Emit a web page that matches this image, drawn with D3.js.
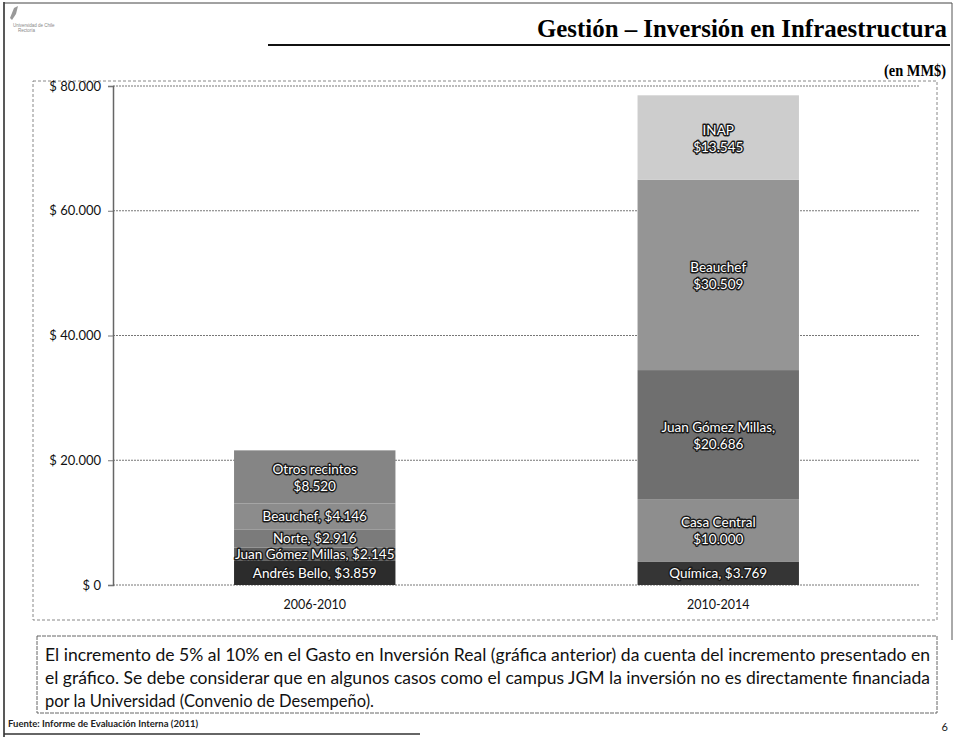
<!DOCTYPE html>
<html><head><meta charset="utf-8">
<script src="https://cdn.jsdelivr.net/npm/d3@7"></script>
<style>
html,body{margin:0;padding:0;background:#fff;}
svg{display:block;}
</style></head>
<body><svg id="c" width="957" height="737"></svg>
<script>
// ---- data ----
const periods = ["2006-2010", "2010-2014"];
const campuses2006 = ["Andrés Bello", "Juan Gómez Millas", "Norte", "Beauchef", "Otros recintos"];
const values2006 = [3859, 2145, 2916, 4146, 8520];
const twoLine2006 = [false, false, false, false, true];
const campuses2010 = ["Química", "Casa Central", "Juan Gómez Millas", "Beauchef", "INAP"];
const values2010 = [3769, 10000, 20686, 30509, 13545];
const twoLine2010 = [false, true, true, true, true];
const yTicks = [0, 20000, 40000, 60000, 80000];
const colors2006 = ["#2c2c2c", "#5e5e5e", "#7b7b7b", "#8c8c8c", "#858585"];
const colors2010 = ["#353535", "#8e8e8e", "#6f6f6f", "#959595", "#cdcdcd"];

const title = "Gestión – Inversión en Infraestructura";
const unit = "(en MM$)";
const noteLines = [
  "El incremento de 5% al 10% en el Gasto en Inversión Real (gráfica anterior) da cuenta del incremento presentado en",
  "el gráfico. Se debe considerar que en algunos casos como el campus JGM la inversión no es directamente financiada",
  "por la Universidad (Convenio de Desempeño)."
];
const source = "Fuente: Informe de Evaluación Interna (2011)";

// ---- drawing ----
const svg = d3.select("#c");
const loc = d3.formatLocale({decimal: ",", thousands: ".", grouping: [3], currency: ["$", ""]});
const fmt = loc.format(",");

// page frame
svg.append("line").attr("x1", 4).attr("x2", 4).attr("y1", 2).attr("y2", 737).attr("stroke", "#222").attr("stroke-width", 1.5);
svg.append("line").attr("x1", 4).attr("x2", 952).attr("y1", 3).attr("y2", 3).attr("stroke", "#444").attr("stroke-width", 1);
svg.append("line").attr("x1", 952).attr("x2", 952).attr("y1", 3).attr("y2", 640).attr("stroke", "#555").attr("stroke-width", 1);
svg.append("line").attr("x1", 4).attr("x2", 420).attr("y1", 734).attr("y2", 734).attr("stroke", "#333").attr("stroke-width", 1.5);

// logo
const logo = svg.append("g").attr("fill", "#888");
logo.append("path").attr("d", "M14,8 L18,6 L16,14 L12,20 L10,18 Z").attr("fill", "#999");
logo.append("text").attr("x", 13).attr("y", 27).attr("font-family", "Liberation Sans").attr("font-size", 4.5).text("Universidad de Chile");
logo.append("text").attr("x", 18).attr("y", 32).attr("font-family", "Liberation Sans").attr("font-size", 4.5).text("Rectoría");

// title
svg.append("text").attr("x", 947).attr("y", 37).attr("text-anchor", "end")
  .attr("font-family", "Liberation Serif").attr("font-weight", "bold").attr("font-size", 25)
  .attr("textLength", 410).attr("lengthAdjust", "spacingAndGlyphs").text(title);
svg.append("line").attr("x1", 268).attr("x2", 950).attr("y1", 45).attr("y2", 45).attr("stroke", "#111").attr("stroke-width", 2);
svg.append("text").attr("x", 946).attr("y", 76).attr("text-anchor", "end")
  .attr("font-family", "Liberation Serif").attr("font-weight", "bold").attr("font-size", 17)
  .attr("textLength", 62).attr("lengthAdjust", "spacingAndGlyphs").text(unit);

// chart frame (dotted)
svg.append("rect").attr("x", 33).attr("y", 81).attr("width", 904).attr("height", 539)
  .attr("fill", "none").attr("stroke", "#888").attr("stroke-width", 1).attr("stroke-dasharray", "3,2");

// scales
const x = d3.scaleBand().domain(periods).range([113, 920]).paddingInner(0.6).paddingOuter(0.3);
const y = d3.scaleLinear().domain([0, 80000]).range([585, 86]);

// grid
svg.append("g").selectAll("line").data(yTicks).join("line")
  .attr("x1", 113).attr("x2", 920).attr("y1", d => y(d)).attr("y2", d => y(d))
  .attr("stroke", "#777").attr("stroke-width", 1).attr("stroke-dasharray", "2,1");

// y axis
const yAxis = svg.append("g").attr("transform", "translate(113,0)")
  .call(d3.axisLeft(y).tickValues(yTicks).tickSize(5).tickFormat(d => "$ " + fmt(d)));
yAxis.select(".domain").attr("stroke", "#666").attr("stroke-width", 1.5);
yAxis.selectAll(".tick line").attr("stroke", "#777");
yAxis.selectAll(".tick text").attr("font-family", "Lato").attr("font-size", 13).attr("fill", "#111").attr("x", -12);

// x labels
svg.append("g").selectAll("text").data(periods).join("text")
  .attr("x", d => x(d) + x.bandwidth() / 2).attr("y", 609).attr("text-anchor", "middle")
  .attr("font-family", "Lato").attr("font-size", 12.5).attr("fill", "#111").text(d => d);

// bars
const bars = [
  {period: periods[0], names: campuses2006, values: values2006, two: twoLine2006, colors: colors2006},
  {period: periods[1], names: campuses2010, values: values2010, two: twoLine2010, colors: colors2010}
];
bars.forEach(b => {
  const ends = d3.cumsum(b.values);
  const segs = b.values.map((v, i) => ({name: b.names[i], v, y0: ends[i] - v, y1: ends[i], two: b.two[i], color: b.colors[i]}));
  const g = svg.append("g");
  g.selectAll("rect").data(segs).join("rect")
    .attr("x", x(b.period)).attr("width", x.bandwidth())
    .attr("y", d => y(d.y1)).attr("height", d => y(d.y0) - y(d.y1))
    .attr("fill", d => d.color);
  const cx = x(b.period) + x.bandwidth() / 2;
  segs.forEach(d => {
    const mid = (y(d.y0) + y(d.y1)) / 2;
    const t = g.append("text").attr("x", cx).attr("text-anchor", "middle")
      .attr("font-family", "Lato").attr("font-size", 13.5).attr("fill", "#fff")
      .attr("stroke", "#1a1a1a").attr("stroke-width", 2.8).attr("paint-order", "stroke")
      .attr("stroke-linejoin", "round");
    const val = "$" + fmt(d.v);
    if (d.two) {
      const l1 = d.name === "Juan Gómez Millas" ? d.name + "," : d.name;
      t.append("tspan").attr("x", cx).attr("y", mid - 3).text(l1);
      t.append("tspan").attr("x", cx).attr("y", mid + 14).text(val);
    } else {
      t.attr("y", mid + 5).text(d.name + ", " + val);
    }
  });
});

// note box
svg.append("rect").attr("x", 37).attr("y", 636).attr("width", 900).attr("height", 77)
  .attr("fill", "none").attr("stroke", "#666").attr("stroke-width", 1).attr("stroke-dasharray", "4,1");
svg.append("g").selectAll("text").data(noteLines).join("text")
  .attr("x", 45).attr("y", (d, i) => 661 + i * 23)
  .attr("font-family", "Lato").attr("font-size", 16.5).attr("fill", "#111")
  .attr("textLength", (d, i) => i < 2 ? 885 : null).attr("lengthAdjust", "spacingAndGlyphs")
  .text(d => d);

// source
svg.append("text").attr("x", 8).attr("y", 727).attr("font-family", "Lato").attr("font-weight", "bold")
  .attr("font-size", 9.5).attr("fill", "#222").text(source);
svg.append("text").attr("x", 948).attr("y", 731).attr("text-anchor", "end").attr("font-family", "Lato")
  .attr("font-size", 11).attr("fill", "#222").text("6");
</script></body></html>
